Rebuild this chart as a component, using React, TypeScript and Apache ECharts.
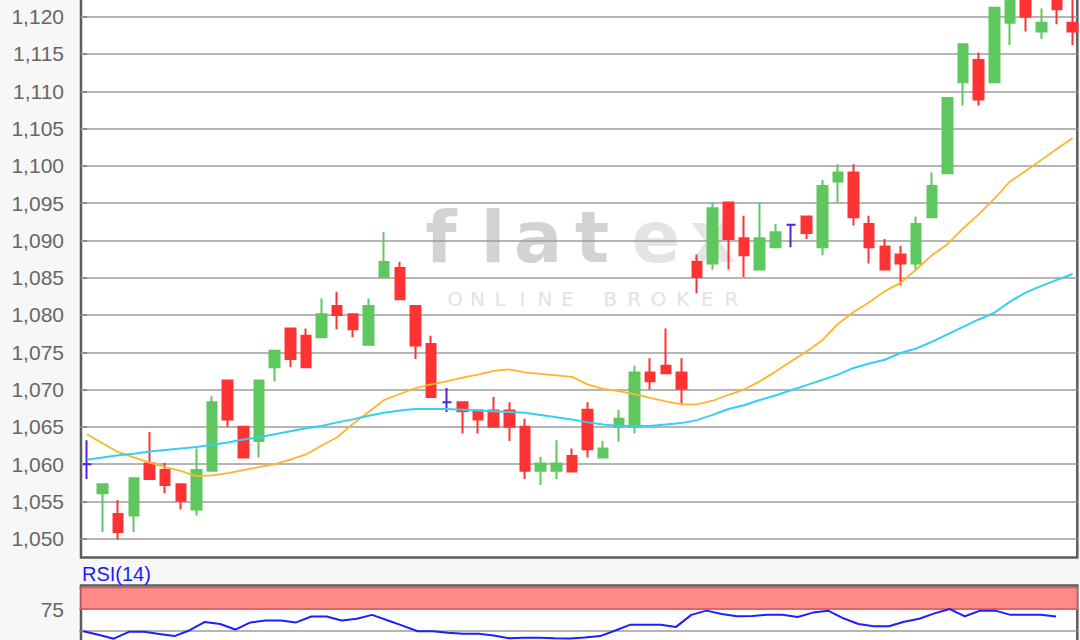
import React, { useEffect, useRef } from "react";
import * as echarts from "echarts";

// ---- data ----
const OPEN = [
  1060.0, 1056.1, 1053.3, 1053.1, 1060.1, 1059.2, 1057.3, 1053.9, 1059.1, 1071.2,
  1065.0, 1063.1, 1073.0, 1078.2, 1077.2, 1077.0, 1081.2, 1080.1, 1076.0, 1085.1,
  1086.3, 1081.2, 1076.1, 1068.3, 1068.3, 1067.2, 1067.2, 1067.2, 1065.0, 1059.1,
  1059.1, 1061.1, 1067.3, 1060.9, 1065.0, 1065.0, 1072.3, 1073.2, 1072.3, 1087.1,
  1086.9, 1095.1, 1090.3, 1086.1, 1089.1, 1092.1, 1093.2, 1089.1, 1097.9, 1099.1,
  1092.2, 1089.2, 1088.1, 1086.9, 1093.1, 1099.0, 1111.2, 1114.2, 1111.2, 1119.2,
  1124.0, 1118.0, 1123.0, 1119.2,
];
const CLOSE = [
  1060.0, 1057.3, 1050.9, 1058.1, 1058.0, 1057.2, 1055.1, 1059.2, 1068.3, 1066.0,
  1060.9, 1071.2, 1075.2, 1074.1, 1073.0, 1080.1, 1080.0, 1078.1, 1081.2, 1087.1,
  1082.1, 1075.9, 1069.0, 1068.3, 1067.1, 1066.0, 1065.0, 1065.0, 1059.1, 1060.1,
  1060.1, 1059.0, 1062.0, 1062.1, 1066.1, 1072.3, 1071.1, 1072.2, 1070.1, 1085.1,
  1094.3, 1090.2, 1088.0, 1090.3, 1091.1, 1092.1, 1091.0, 1097.3, 1099.1, 1093.1,
  1089.1, 1086.1, 1086.9, 1092.2, 1097.3, 1109.1, 1116.3, 1108.9, 1121.2, 1124.0,
  1120.0, 1119.2, 1121.0, 1118.0,
];
const LOW = [
  1058.0, 1050.9, 1049.9, 1050.9, 1058.0, 1056.1, 1053.9, 1053.1, 1059.1, 1065.0,
  1060.9, 1060.9, 1071.1, 1073.0, 1073.0, 1077.0, 1078.1, 1077.0, 1076.0, 1085.1,
  1082.1, 1074.1, 1069.0, 1067.0, 1064.1, 1064.1, 1065.0, 1063.1, 1058.0, 1057.2,
  1058.0, 1059.0, 1060.9, 1060.9, 1063.0, 1064.1, 1070.0, 1072.2, 1068.1, 1082.9,
  1086.1, 1086.1, 1085.1, 1086.1, 1089.1, 1089.1, 1090.2, 1088.0, 1095.1, 1092.0,
  1086.9, 1086.1, 1084.0, 1086.1, 1093.1, 1099.0, 1108.1, 1108.1, 1111.2, 1116.2,
  1118.0, 1117.0, 1119.0, 1116.2,
];
const HIGH = [
  1063.2, 1057.3, 1055.2, 1058.1, 1064.3, 1060.2, 1057.3, 1062.1, 1069.1, 1071.2,
  1065.0, 1071.2, 1075.2, 1078.2, 1078.2, 1082.2, 1083.1, 1080.1, 1082.2, 1091.1,
  1087.1, 1081.2, 1077.2, 1070.2, 1068.3, 1067.2, 1069.0, 1068.3, 1066.1, 1061.0,
  1063.2, 1062.1, 1068.3, 1063.1, 1067.3, 1073.2, 1074.2, 1078.2, 1074.2, 1088.1,
  1095.1, 1095.1, 1093.3, 1095.1, 1092.2, 1092.1, 1093.2, 1098.1, 1100.2, 1100.2,
  1093.3, 1090.2, 1089.3, 1093.2, 1099.1, 1109.1, 1116.3, 1115.2, 1121.2, 1125.0,
  1125.0, 1121.1, 1124.0, 1124.0,
];
const MA_ORANGE = [
  1064.0, 1062.8, 1061.6, 1060.9, 1060.2, 1059.6, 1059.1, 1058.4, 1058.5, 1058.8,
  1059.2, 1059.6, 1060.0, 1060.6, 1061.3, 1062.5, 1063.6, 1065.4, 1067.0, 1068.6,
  1069.4, 1070.2, 1070.7, 1071.1, 1071.6, 1072.0, 1072.5, 1072.7, 1072.3, 1072.1,
  1071.9, 1071.7, 1070.7, 1070.1, 1069.8, 1069.4, 1068.9, 1068.4, 1068.0, 1068.0,
  1068.5, 1069.3, 1070.0, 1071.1, 1072.4, 1073.8, 1075.1, 1076.6, 1078.8, 1080.4,
  1081.7, 1083.2, 1084.3, 1086.1, 1088.0, 1089.5, 1091.6, 1093.5, 1095.6, 1097.9,
  1099.3, 1100.8, 1102.3, 1103.7,
];
const MA_CYAN = [
  1060.6, 1060.9, 1061.2, 1061.4, 1061.7, 1061.9, 1062.1, 1062.3, 1062.6, 1062.9,
  1063.3, 1063.6, 1064.0, 1064.4, 1064.8, 1065.1, 1065.6, 1066.0, 1066.5, 1066.9,
  1067.2, 1067.4, 1067.4, 1067.4, 1067.3, 1067.2, 1067.1, 1067.0, 1066.9, 1066.6,
  1066.3, 1066.0, 1065.6, 1065.3, 1065.1, 1065.1, 1065.1, 1065.3, 1065.5, 1065.9,
  1066.6, 1067.4, 1067.9, 1068.6, 1069.2, 1069.9, 1070.6, 1071.3, 1072.0, 1072.9,
  1073.5, 1074.0, 1074.9, 1075.5, 1076.4, 1077.4, 1078.4, 1079.4, 1080.3, 1081.8,
  1083.0, 1083.9, 1084.7, 1085.5,
];
const RSI = [
  49.2, 45.0, 40.5, 48.5, 48.5, 46.0, 43.5, 50.3, 59.9, 57.6,
  51.1, 59.4, 61.7, 61.7, 59.4, 66.3, 66.3, 61.7, 63.6, 68.2,
  61.9, 55.7, 49.2, 49.2, 47.5, 46.3, 46.3, 44.3, 40.9, 41.7,
  41.7, 40.9, 40.6, 42.0, 43.5, 50.0, 56.8, 56.8, 56.6, 54.2,
  68.2, 73.1, 69.1, 66.6, 67.0, 68.2, 68.2, 65.6, 70.8, 73.1,
  64.2, 57.6, 54.9, 54.9, 60.2, 63.6, 69.9, 75.0, 66.5, 73.1,
  73.1, 68.2, 68.2, 68.2, 66.3,
];
const RSI_ZONE = [75, 100];
const RSI_LABELS = [75];
const WATERMARK = "flatex";
const WATERMARK_SUB = ["ONLINE", "BROKER"];

// ---- layout / style (page pixels) ----
const W = 1080;
const H = 640;
const OFF = 20; // chart canvas starts OFF px above the page top
const CH = 720; // chart canvas height
const LEFT = 81;
const RIGHT_EDGE = 1077.3;
const MAIN_TOP = -OFF;
const MAIN_BOTTOM = 557.5;
const RSI_TOP = 585.5;
const RSI_BOTTOM = 673.5;
const GREEN = "#5fc75f";
const RED = "#ff3333";
const PURPLE = "#5522d6";
const BORDER = "#5c5c5c";
const GRIDLINE = "#9d9d9d";
const FONT = "'Liberation Sans', Arial, sans-serif";

export default function App() {
  const ref = useRef<HTMLDivElement>(null);

  useEffect(() => {
    document.body.style.margin = "0";
    const el = ref.current!;
    const chart = echarts.init(el, null, { renderer: "svg" });
    const Y = (v: number) => v + OFF; // page y -> canvas y

    const markLetters = [
      { x: 441, c: "#d3d3d3" },
      { x: 493, c: "#d3d3d3" },
      { x: 538, c: "#d3d3d3" },
      { x: 592, c: "#d3d3d3" },
      { x: 656, c: "#e4e4e4" },
      { x: 713, c: "#e4e4e4" },
    ];
    const graphics: any[] = [
      {
        type: "rect",
        z: -3,
        silent: true,
        shape: { x: LEFT, y: Y(MAIN_TOP), width: RIGHT_EDGE - LEFT, height: MAIN_BOTTOM - MAIN_TOP },
        style: { fill: "#ffffff" },
      },
      {
        type: "rect",
        z: -3,
        silent: true,
        shape: { x: LEFT, y: Y(RSI_TOP), width: RIGHT_EDGE - LEFT, height: RSI_BOTTOM - RSI_TOP },
        style: { fill: "#ffffff" },
      },
      {
        type: "text",
        x: 82,
        y: Y(574),
        style: {
          text: "RSI(14)",
          fill: "#1a1aff",
          font: `20px ${FONT}`,
          textAlign: "left",
          textVerticalAlign: "middle",
        },
      },
    ];
    WATERMARK.split("").forEach((ch, i) => {
      graphics.push({
        type: "text",
        z: -2,
        silent: true,
        x: markLetters[i].x,
        y: Y(237),
        style: {
          text: ch,
          fill: markLetters[i].c,
          font: `bold 72px 'DejaVu Sans', sans-serif`,
          textAlign: "center",
          textVerticalAlign: "middle",
        },
      });
    });
    const subStarts = [455, 610];
    const subSteps = [22.5, 24.3];
    WATERMARK_SUB.forEach((word, w) => {
      word.split("").forEach((ch, k) => {
        graphics.push({
          type: "text",
          z: -2,
          silent: true,
          x: subStarts[w] + subSteps[w] * k,
          y: Y(299),
          style: {
            text: ch,
            fill: "#e2e2e2",
            font: `20px 'DejaVu Sans', sans-serif`,
            textAlign: "center",
            textVerticalAlign: "middle",
          },
        });
      });
    });

    const pxPerUnit = (538.7 - 16.7) / 70;
    const mainMin = 1050 - (MAIN_BOTTOM - 538.7) / pxPerUnit;
    const mainMax = 1050 + (538.7 - MAIN_TOP) / pxPerUnit;
    const plotW = RIGHT_EDGE - LEFT;
    const candleStep = 15.646;
    const candleX0 = 86.9;
    const xMin = -(candleX0 - LEFT) / candleStep;
    const xMax = xMin + plotW / candleStep;
    const rsiStep = 15.2;
    const rsiX0 = 83.3;
    const rxMin = -(rsiX0 - LEFT) / rsiStep;
    const rxMax = rxMin + plotW / rsiStep;
    const rsiPx = 0.86;
    const rsiMax = 75 + (609 - RSI_TOP) / rsiPx;
    const rsiMin = 75 - (RSI_BOTTOM - 609) / rsiPx;

    const axisTick = { show: true, length: 4, lineStyle: { color: "#777", width: 1.5 } };
    const splitLine = {
      show: true,
      showMinLine: false,
      showMaxLine: false,
      lineStyle: { color: GRIDLINE, width: 1.5 },
    };

    const option: any = {
      animation: false,
      backgroundColor: "#f7f7f7",
      textStyle: { fontFamily: FONT },
      graphic: { elements: graphics },
      grid: [
        {
          left: LEFT,
          width: RIGHT_EDGE - LEFT,
          top: Y(MAIN_TOP),
          height: MAIN_BOTTOM - MAIN_TOP,
          show: true,
          borderColor: BORDER,
          borderWidth: 2.5,
          backgroundColor: "transparent",
        },
        {
          left: LEFT,
          width: RIGHT_EDGE - LEFT,
          top: Y(RSI_TOP),
          height: RSI_BOTTOM - RSI_TOP,
          show: true,
          borderColor: BORDER,
          borderWidth: 2.5,
          backgroundColor: "transparent",
        },
      ],
      xAxis: [
        { type: "value", gridIndex: 0, min: xMin, max: xMax, show: false },
        { type: "value", gridIndex: 1, min: rxMin, max: rxMax, show: false },
      ],
      yAxis: [
        {
          type: "value",
          gridIndex: 0,
          min: mainMin,
          max: mainMax,
          splitNumber: 15,
          minInterval: 5,
          maxInterval: 5,
          axisLine: { show: false },
          axisTick,
          axisLabel: {
            color: "#666",
            fontSize: 21,
            fontFamily: FONT,
            margin: 17,
            showMinLabel: false,
            showMaxLabel: false,
            formatter: (v: number) => Math.round(v).toLocaleString("en-US"),
          },
          splitLine,
        },
        {
          type: "value",
          gridIndex: 1,
          min: rsiMin,
          max: rsiMax,
          splitNumber: 4,
          minInterval: 25,
          maxInterval: 25,
          axisLine: { show: false },
          axisTick,
          axisLabel: {
            color: "#666",
            fontSize: 21,
            fontFamily: FONT,
            margin: 17,
            showMinLabel: false,
            showMaxLabel: false,
            formatter: (v: number) =>
              RSI_LABELS.includes(Math.round(v)) ? String(Math.round(v)) : "",
          },
          splitLine,
        },
      ],
      series: [
        {
          type: "candlestick",
          xAxisIndex: 0,
          yAxisIndex: 0,
          barWidth: 10,
          encode: { x: 0, y: [1, 2, 3, 4] },
          data: OPEN.map((o, i) => [i, o, CLOSE[i], LOW[i], HIGH[i]]),
          itemStyle: {
            color: GREEN,
            color0: RED,
            borderColor: GREEN,
            borderColor0: RED,
            borderColorDoji: PURPLE,
            borderWidth: 2,
          },
          z: 2,
        },
        {
          type: "line",
          xAxisIndex: 0,
          yAxisIndex: 0,
          data: MA_ORANGE.map((v, i) => [i, v]),
          showSymbol: false,
          symbol: "none",
          lineStyle: { color: "#ffb42a", width: 1.8 },
          z: 3,
        },
        {
          type: "line",
          xAxisIndex: 0,
          yAxisIndex: 0,
          data: MA_CYAN.map((v, i) => [i, v]),
          showSymbol: false,
          symbol: "none",
          lineStyle: { color: "#33d0f2", width: 2 },
          z: 3,
        },
        {
          type: "line",
          xAxisIndex: 1,
          yAxisIndex: 1,
          data: RSI.map((v, i) => [i, v]),
          showSymbol: false,
          symbol: "none",
          lineStyle: { color: "#1e1eff", width: 2 },
          markArea: {
            silent: true,
            itemStyle: { color: "#ff8a8a", borderColor: "#d25a5a", borderWidth: 1.5 },
            data: [[{ yAxis: RSI_ZONE[0] }, { yAxis: RSI_ZONE[1] }]],
          },
          z: 3,
        },
      ],
    };

    chart.setOption(option);
    return () => chart.dispose();
  }, []);

  return (
    <div style={{ width: W, height: H, overflow: "hidden", position: "relative" }}>
      <div
        ref={ref}
        style={{ position: "absolute", left: 0, top: -OFF, width: W, height: CH }}
      />
    </div>
  );
}
